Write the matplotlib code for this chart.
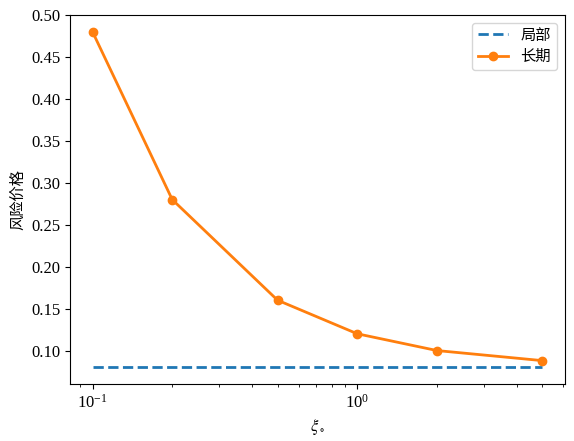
import numpy as np
import matplotlib
matplotlib.use("Agg")
import matplotlib.pyplot as plt

plt.rcParams['font.family'] = ['Liberation Serif', 'Noto Sans CJK SC', 'DejaVu Sans']
plt.rcParams['mathtext.fontset'] = 'stix'
plt.rcParams['axes.unicode_minus'] = False

xi = [0.1, 0.2, 0.5, 1.0, 2.0, 5.0]
local_price = [0.08, 0.08, 0.08, 0.08, 0.08, 0.08]
long_price = [0.48, 0.28, 0.16, 0.12, 0.10, 0.088]

fig, ax = plt.subplots(figsize=(5.74, 4.41), dpi=100)
fig.subplots_adjust(left=0.122, right=0.984, top=0.966, bottom=0.129)

ax.plot(xi, local_price, '--', color='#1f77b4', linewidth=2, label='局部')
ax.plot(xi, long_price, '-o', color='#ff7f0e', linewidth=2, label='长期')
ax.set_xscale('log')
ax.set_xlabel(r'$\xi_\circ$', fontsize=12)
ax.set_ylabel('风险价格', fontsize=11)
ax.tick_params(labelsize=12)
ax.legend(fontsize=11)

fig.savefig('out.png', dpi=100)
